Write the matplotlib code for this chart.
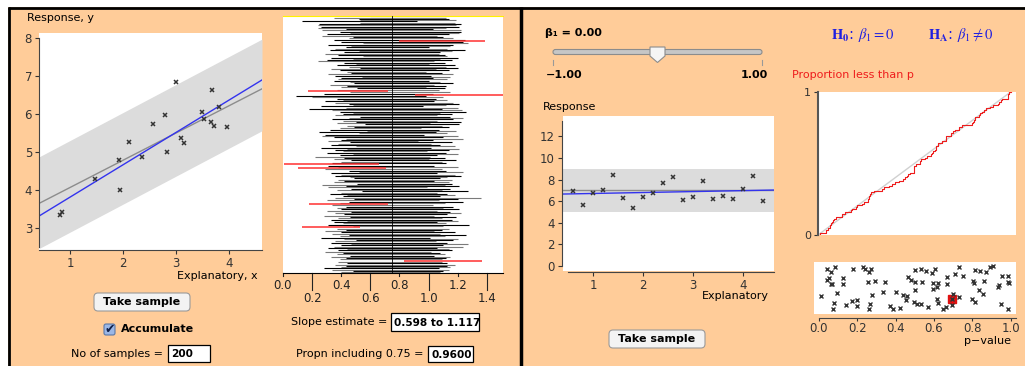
import numpy as np
import matplotlib.pyplot as plt
from matplotlib.patches import Rectangle, FancyBboxPatch, Polygon

plt.rcParams['font.family'] = ['DejaVu Sans']
plt.rcParams['mathtext.fontset'] = 'stix'

W, H = 1025, 366
ORANGE = '#FFCC99'

# ---- left panel: one sample ----
samp_x = [0.82, 0.85, 1.47, 1.93, 1.95, 2.11, 2.36, 2.57, 2.80, 2.82,
          3.00, 3.10, 3.15, 3.48, 3.52, 3.68, 3.66, 3.72, 3.81, 3.96]
samp_y = [3.33, 3.41, 4.28, 4.79, 3.99, 5.26, 4.86, 5.75, 5.98, 5.01,
          6.84, 5.38, 5.24, 6.05, 5.87, 6.63, 5.79, 5.68, 6.19, 5.66]
fit_line = [2.95, 0.855]      # intercept, slope (sample fit)
model_line = [3.34, 0.72]     # gray line
band_center = [3.35, 0.74]
band_half = 1.21

# ---- slope intervals, 200 samples ----
ci_low = [0.60, 0.35, 0.52, 0.53, 0.13, 0.53, 0.25, 0.24, 0.26, 0.24,
          0.43, 0.27, 0.39, 0.46, 0.30, 0.27, 0.48, 0.45, 0.35, 0.80,
          0.40, 0.55, 0.31, 0.47, 0.43, 0.36, 0.32, 0.52, 0.42, 0.29,
          0.38, 0.55, 0.33, 0.48, 0.30, 0.24, 0.42, 0.50, 0.37, 0.45,
          0.53, 0.33, 0.39, 0.44, 0.47, 0.31, 0.36, 0.54, 0.40, 0.38,
          0.35, 0.46, 0.49, 0.32, 0.44, 0.40, 0.51, 0.37, 0.17, 0.46,
          0.28, 0.91, 0.09, 0.20, 0.37, 0.41, 0.29, 0.36, 0.45, 0.48,
          0.26, 0.43, 0.18, 0.34, 0.39, 0.48, 0.41, 0.36, 0.53, 0.45,
          0.34, 0.41, 0.50, 0.37, 0.56, 0.44, 0.49, 0.39, 0.32, 0.58,
          0.25, 0.52, 0.29, 0.27, 0.35, 0.43, 0.40, 0.31, 0.46, 0.38,
          0.33, 0.50, 0.26, 0.44, 0.36, 0.41, 0.30, 0.48, 0.39, 0.22,
          0.42, 0.35, 0.47, 0.40, 0.34, 0.01, 0.31, 0.38, 0.10, 0.29,
          0.45, 0.52, 0.33, 0.40, 0.36, 0.46, 0.49, 0.38, 0.42, 0.35,
          0.51, 0.27, 0.43, 0.31, 0.47, 0.37, 0.54, 0.40, 0.32, 0.44,
          0.41, 0.36, 0.49, 0.30, 0.45, 0.39, 0.18, 0.34, 0.43, 0.37,
          0.40, 0.30, 0.47, 0.36, 0.42, 0.28, 0.46, 0.38, 0.33, 0.44,
          0.35, 0.41, 0.31, 0.48, 0.13, 0.37, 0.43, 0.29, 0.40, 0.34,
          0.45, 0.39, 0.26, 0.42, 0.50, 0.36, 0.33, 0.47, 0.40, 0.35,
          0.31, 0.44, 0.38, 0.29, 0.41, 0.37, 0.46, 0.33, 0.43, 0.39,
          0.83, 0.38, 0.44, 0.36, 0.43, 0.40, 0.28, 0.34, 0.48, 0.40]
ci_high = [1.12, 1.12, 1.14, 1.19, 0.92, 1.18, 1.22, 1.19, 1.21, 1.12,
           1.03, 1.22, 1.22, 1.21, 1.14, 1.06, 1.10, 1.17, 1.25, 1.39,
           1.24, 1.27, 1.17, 1.15, 1.00, 1.13, 1.25, 1.16, 1.08, 1.07,
           1.11, 1.13, 1.20, 1.08, 1.16, 1.04, 1.11, 1.00, 1.18, 1.12,
           1.20, 1.05, 1.14, 0.98, 1.09, 1.17, 1.02, 1.15, 1.03, 1.13,
           1.00, 1.08, 1.17, 1.04, 1.12, 0.98, 1.11, 1.07, 0.72, 1.15,
           1.03, 1.52, 0.98, 1.10, 1.05, 1.13, 1.04, 1.17, 1.21, 1.12,
           0.96, 1.20, 1.09, 1.23, 1.26, 1.08, 1.16, 1.06, 1.15, 1.24,
           1.17, 1.06, 1.22, 1.01, 1.21, 1.09, 1.14, 0.95, 1.07, 1.19,
           1.05, 1.13, 0.97, 1.20, 1.10, 1.24, 1.03, 0.93, 1.16, 1.02,
           1.08, 1.18, 1.02, 1.21, 1.14, 0.99, 1.12, 1.20, 1.06, 1.01,
           1.11, 1.00, 1.19, 1.09, 1.12, 0.66, 1.04, 1.20, 0.71, 1.09,
           1.12, 1.24, 1.06, 1.18, 1.22, 1.13, 1.08, 1.16, 1.04, 1.14,
           1.16, 1.11, 1.21, 0.99, 1.15, 1.09, 1.27, 1.06, 1.13, 1.18,
           1.08, 1.36, 1.20, 1.07, 1.24, 1.11, 0.72, 1.03, 1.17, 1.10,
           1.21, 1.06, 1.15, 1.22, 1.13, 1.04, 1.19, 1.09, 1.16, 1.20,
           1.06, 1.12, 1.28, 1.10, 0.53, 1.14, 1.09, 1.04, 1.18, 1.08,
           1.26, 1.11, 1.01, 1.20, 1.17, 1.05, 1.13, 1.27, 1.10, 1.24,
           1.06, 1.14, 1.16, 1.02, 1.08, 1.11, 1.04, 1.15, 1.12, 1.09,
           1.37, 1.09, 1.13, 1.18, 1.13, 1.15, 1.07, 1.14, 1.10, 1.08]
true_slope = 0.75
n_samples = 200
slope_ci = '0.598 to 1.117'
propn = '0.9600'
ci_ticks = [0.0, 0.2, 0.4, 0.6, 0.8, 1.0, 1.2, 1.4]

# ---- right panel ----
beta1 = 0.00
x2 = [0.6, 0.8, 1.0, 1.2, 1.4, 1.6, 1.8, 2.0, 2.2, 2.4,
      2.6, 2.8, 3.0, 3.2, 3.4, 3.6, 3.8, 4.0, 4.2, 4.4]
y2 = [6.98, 5.67, 6.73, 7.00, 8.47, 6.33, 5.36, 6.39, 6.73, 7.66,
      8.22, 6.08, 6.42, 7.91, 6.23, 6.51, 6.17, 7.16, 8.37, 5.98]
fit2 = [6.63, 0.088]
null_level = 7.0
band2 = [5.0, 9.0]

pvals = [0.040, 0.063, 0.083, 0.043, 0.054, 0.070, 0.063, 0.127, 0.123, 0.179,
         0.231, 0.240, 0.261, 0.270, 0.257, 0.292, 0.344, 0.010, 0.096, 0.080,
         0.075, 0.141, 0.170, 0.200, 0.197, 0.266, 0.263, 0.275, 0.332, 0.370,
         0.384, 0.402, 0.423, 0.440, 0.454, 0.461, 0.496, 0.510, 0.530, 0.567,
         0.614, 0.623, 0.645, 0.663, 0.501, 0.530, 0.558, 0.588, 0.605, 0.466,
         0.480, 0.501, 0.501, 0.536, 0.597, 0.614, 0.593, 0.623, 0.666, 0.666,
         0.710, 0.732, 0.750, 0.701, 0.692, 0.732, 0.797, 0.814, 0.814, 0.840,
         0.871, 0.805, 0.809, 0.861, 0.837, 0.854, 0.892, 0.906, 0.953, 0.988,
         0.941, 0.932, 0.988, 0.993, 0.951, 0.986, 0.692]
jitter = [0.86, 0.81, 0.90, 0.65, 0.70, 0.57, 0.57, 0.70, 0.57, 0.86,
          0.90, 0.86, 0.80, 0.86, 0.62, 0.64, 0.62, 0.34, 0.41, 0.22,
          0.09, 0.17, 0.25, 0.27, 0.15, 0.20, 0.10, 0.36, 0.42, 0.15,
          0.09, 0.42, 0.12, 0.36, 0.27, 0.34, 0.24, 0.19, 0.19, 0.14,
          0.29, 0.22, 0.10, 0.14, 0.85, 0.86, 0.83, 0.79, 0.87, 0.71,
          0.65, 0.47, 0.61, 0.62, 0.59, 0.52, 0.49, 0.60, 0.71, 0.57,
          0.76, 0.90, 0.73, 0.38, 0.17, 0.32, 0.29, 0.23, 0.84, 0.82,
          0.80, 0.64, 0.59, 0.64, 0.47, 0.38, 0.90, 0.92, 0.73, 0.73,
          0.55, 0.52, 0.62, 0.59, 0.20, 0.09, 0.28]
last_p, last_j = 0.692, 0.28


def box(x0, y0, x1, y1):
    return [x0 / W, 1 - y1 / H, (x1 - x0) / W, (y1 - y0) / H]


def ftext(x, y, s, **kw):
    kw.setdefault('fontsize', 8)
    kw.setdefault('va', 'center')
    fig.text(x / W, 1 - y / H, s, **kw)


fig = plt.figure(figsize=(W / 100, H / 100), dpi=100, facecolor='white')

# background / widgets in pixel coords
bg = fig.add_axes([0, 0, 1, 1], zorder=-1)
bg.set_xlim(0, W)
bg.set_ylim(H, 0)
bg.axis('off')
bg.add_patch(Rectangle((8, 7), 512, H - 7, fc=ORANGE, ec='none'))
bg.add_patch(Rectangle((520, 7), W - 520, H - 7, fc=ORANGE, ec='none'))
bg.plot([8, W], [7.5, 7.5], color='black', lw=2, solid_capstyle='butt')
bg.plot([9, 9], [7, H], color='black', lw=2, solid_capstyle='butt')
bg.plot([521, 521], [7, H], color='black', lw=2.5, solid_capstyle='butt')


def button(cx, cy, label):
    bg.add_patch(FancyBboxPatch((cx - 48, cy - 9), 96, 18,
                                boxstyle='round,pad=0,rounding_size=4',
                                fc='#F3F3F3', ec='#9A9A9A', lw=0.8))
    ftext(cx, cy, label, ha='center', fontweight='bold')


def textbox(x0, y0, x1, y1, s):
    bg.add_patch(Rectangle((x0, y0), x1 - x0, y1 - y0, fc='white', ec='black', lw=0.9))
    ftext(x0 + 3, (y0 + y1) / 2 + 0.5, s, ha='left', fontweight='bold', fontsize=7.6)


button(142, 302, 'Take sample')
bg.add_patch(FancyBboxPatch((104, 324), 11, 11, boxstyle='round,pad=0,rounding_size=2',
                            fc='#9BB7E6', ec='#5A78A8', lw=0.8))
ftext(110, 329, '\u2714', ha='center', color='#10204A', fontsize=9)
ftext(121, 329.5, 'Accumulate', ha='left', fontweight='bold')
ftext(163, 354, 'No of samples =', ha='right')
textbox(168, 345, 210, 362, str(n_samples))
ftext(387, 322, 'Slope estimate =', ha='right')
textbox(391, 313, 479, 331, slope_ci)
ftext(424, 354, 'Propn including %.2f =' % true_slope, ha='right')
textbox(428, 346, 473, 362, propn)

# slider
s0, s1 = 553, 762
bg.add_patch(FancyBboxPatch((s0, 49.5), s1 - s0, 5, boxstyle='round,pad=0,rounding_size=2.5',
                            fc='#C6C6C6', ec='#8C8C8C', lw=0.8))
tx = s0 + (beta1 + 1) / 2 * (s1 - s0)
bg.add_patch(Polygon([(tx - 7.5, 47), (tx + 7.5, 47), (tx + 7.5, 56), (tx, 62.5), (tx - 7.5, 56)],
                     closed=True, fc='#F5F5F5', ec='#8C8C8C', lw=0.8))
bg.plot([s0, s0], [60, 65], color='#999999', lw=0.8)
bg.plot([s1, s1], [60, 65], color='#999999', lw=0.8)
ftext(545, 33, '\u03b2\u2081 = %.2f' % beta1, ha='left', fontweight='bold')
ftext(546, 75, '\u22121.00', ha='left', fontweight='bold')
ftext(768, 75, '1.00', ha='right', fontweight='bold')
button(657, 339, 'Take sample')

blue_h = '#1F1FE0'
ftext(831, 35, r'$\mathbf{H_0}$: $\beta_1 = 0$', ha='left', color=blue_h, fontsize=10.5)
ftext(928, 35, r'$\mathbf{H_A}$: $\beta_1 \neq 0$', ha='left', color=blue_h, fontsize=10.5)
ftext(792, 75, 'Proportion less than p', ha='left', color='#EE1C1C')

# ---- left scatter ----
ax1 = fig.add_axes(box(39, 33, 262, 250))
xl = np.array([0.416, 4.62])
ax1.set_xlim(*xl)
ax1.set_ylim(2.41, 8.14)
ax1.fill_between(xl, band_center[0] + band_center[1] * xl - band_half,
                 band_center[0] + band_center[1] * xl + band_half,
                 color='#DCDCDC', lw=0)
ax1.plot(xl, model_line[0] + model_line[1] * xl, color='#8C8C8C', lw=1)
ax1.plot(xl, fit_line[0] + fit_line[1] * xl, color='#3333EE', lw=1)
ax1.plot(samp_x, samp_y, 'x', color='#333333', ms=3.5, mew=1.1)
ax1.set_xticks([1, 2, 3, 4])
ax1.set_yticks([3, 4, 5, 6, 7, 8])
for s in ['top', 'right']:
    ax1.spines[s].set_visible(False)
ax1.spines['left'].set_bounds(2.5, 8)
for s in ['left', 'bottom']:
    ax1.spines[s].set_color('#444444')
ax1.tick_params(labelsize=8.5, length=3, colors='#333333', pad=2)
ftext(27, 18, 'Response, y', ha='left')
ftext(258, 276, 'Explanatory, x', ha='right')

# ---- intervals ----
ax2 = fig.add_axes(box(283, 15.7, 502.5, 273))
ax2.set_xlim(0, 1.508)
ax2.set_ylim(len(ci_low) - 0.5, -0.5)
lo_a = np.array(ci_low)
hi_a = np.array(ci_high)
rows = np.arange(len(lo_a))
miss = (lo_a > true_slope) | (hi_a < true_slope)
cols = ['black' if i % 2 == 0 else '#7A7A7A' for i in rows[~miss]]
ax2.hlines(rows[~miss], lo_a[~miss], hi_a[~miss], colors=cols, lw=0.8)
ax2.hlines(rows[miss], lo_a[miss], hi_a[miss], colors='#FF3030', lw=1.1, zorder=2.5)
ax2.axvline(true_slope, color='black', lw=0.6, zorder=3)
for s in ['left', 'right']:
    ax2.spines[s].set_visible(False)
ax2.spines['top'].set_color('#FFF200')
ax2.set_yticks([])
ax2.set_xticks([])
# staggered tick labels: upper row 0.0/0.4/..., lower row 0.2/0.6/... with long ticks
xtr = ax2.get_xaxis_transform()
for k, t in enumerate(ci_ticks):
    upper = (k % 2 == 0)
    tick_end = -0.012 if upper else -0.065
    ax2.plot([t, t], [0, tick_end], color='#222222', lw=0.8, transform=xtr, clip_on=False)
    ax2.text(t, -0.05 if upper else -0.098, '%.1f' % t, transform=xtr,
             ha='center', va='center', fontsize=8.5, color='#222222', clip_on=False)

# ---- right scatter ----
ax3 = fig.add_axes(box(563, 116, 774, 271))
xr = np.array([0.4, 4.61])
ax3.set_xlim(*xr)
ax3.set_ylim(-0.47, 13.9)
ax3.axhspan(band2[0], band2[1], color='#DCDCDC', lw=0)
ax3.axhline(null_level, color='#8C8C8C', lw=1)
ax3.plot(xr, fit2[0] + fit2[1] * xr, color='#3333EE', lw=1)
ax3.plot(x2, y2, 'x', color='#333333', ms=3.5, mew=1.1)
ax3.set_xticks([1, 2, 3, 4])
ax3.set_yticks([0, 2, 4, 6, 8, 10, 12])
for s in ['top', 'right']:
    ax3.spines[s].set_visible(False)
ax3.spines['left'].set_bounds(0, 13.4)
ax3.spines['bottom'].set_bounds(0.5, 4.61)
ax3.spines['left'].set_position(('outward', 1))
ax3.spines['bottom'].set_position(('outward', 1))
for s in ['left', 'bottom']:
    ax3.spines[s].set_color('#444444')
ax3.tick_params(labelsize=8.5, length=3, colors='#333333', pad=2)
ftext(543, 107, 'Response', ha='left')
ftext(769, 296, 'Explanatory', ha='right')

# ---- ECDF of p-values ----
ax4 = fig.add_axes(box(818, 92, 1016, 235))
ax4.set_xlim(0, 1.028)
ax4.set_ylim(0, 1)
ps = np.sort(pvals)
cum = np.arange(1, len(ps) + 1) / len(ps)
ax4.plot([0, 1], [0, 1], color='#D0D0D0', lw=1)
ax4.step(np.r_[0, ps, 1], np.r_[0, cum, 1], where='post', color='#EE1C1C', lw=0.8)
ax4.set_xticks([])
ax4.set_yticks([0, 1])
for s in ['top', 'right', 'bottom']:
    ax4.spines[s].set_visible(False)
ax4.spines['left'].set_color('#555555')
ax4.spines['left'].set_linewidth(1.5)
ax4.tick_params(labelsize=8, length=3, colors='#333333', pad=2)

# ---- p-value dot plot ----
ax5 = fig.add_axes(box(814, 262, 1016, 314))
ax5.set_xlim(-0.026, 1.028)
ax5.set_ylim(0, 1)
ax5.plot([last_p], [last_j], 's', color='#E01010', ms=5.5, zorder=2)
ax5.plot(pvals, jitter, 'x', color='#333333', ms=3.4, mew=1.0, zorder=3)
ax5.set_yticks([])
ax5.set_xticks([0.0, 0.2, 0.4, 0.6, 0.8, 1.0])
for s in ['top', 'right', 'left']:
    ax5.spines[s].set_visible(False)
ax5.spines['bottom'].set_position(('outward', 3))
ax5.spines['bottom'].set_bounds(0, 1.028)
ax5.spines['bottom'].set_color('#444444')
ax5.tick_params(labelsize=8.5, length=2, colors='#333333', pad=0.5)
ftext(1011, 341, 'p\u2212value', ha='right')

fig.savefig('out.png', dpi=100, facecolor='white')
